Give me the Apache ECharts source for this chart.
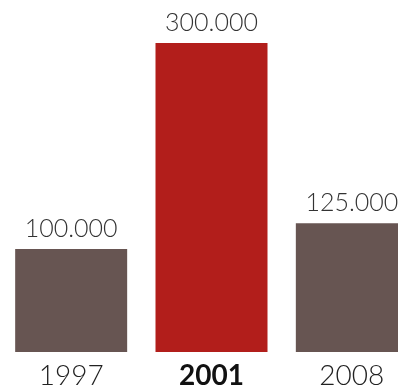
<!DOCTYPE html>
<html lang="en">
<head>
    <meta charset="UTF-8">
    <title>bars</title>
    <script src="https://cdn.jsdelivr.net/npm/echarts@6/dist/echarts.min.js"></script>
    <style>
        html, body { margin: 0; padding: 0; background: #fff; }
        #bar { width: 398px; height: 390px; }
    </style>
</head>
<body>
<div id="bar"></div>
<script>
    var years = ['1997', '2001', '2008'];
    var values = [100000, 300000, 125000];
    var barColors = ['#675552', '#b21e1b', '#675552'];
    var highlight = '2001';

    function fmt(v) {
        return String(v).replace(/\B(?=(\d{3})+(?!\d))/g, '.');
    }

    var myChart = echarts.init(document.getElementById('bar'));

    var option = {
        animation: false,
        grid: {
            left: 1, top: 43, bottom: 38, width: 421,
            containLabel: false,
            outerBoundsMode: 'none'
        },
        xAxis: {
            type: 'category',
            data: years.map(function (y) {
                return y === highlight
                    ? { value: y, textStyle: { fontWeight: 'bold', color: '#111' } }
                    : y;
            }),
            axisLine: { show: false },
            axisTick: { show: false },
            axisLabel: {
                margin: 10,
                fontFamily: 'Lato',
                fontSize: 28,
                fontWeight: 300,
                color: '#222'
            }
        },
        yAxis: {
            type: 'value',
            min: 0,
            max: 300000,
            show: false,
            splitLine: { show: false }
        },
        series: [{
            type: 'bar',
            barWidth: 112,
            data: values.map(function (v, i) {
                return { value: v, itemStyle: { color: barColors[i] } };
            }),
            label: {
                show: true,
                position: 'top',
                distance: 8,
                fontFamily: 'Lato',
                fontSize: 25,
                fontWeight: 300,
                color: '#333',
                formatter: function (p) { return fmt(p.value); }
            }
        }]
    };

    myChart.setOption(option);
</script>
</body>
</html>
